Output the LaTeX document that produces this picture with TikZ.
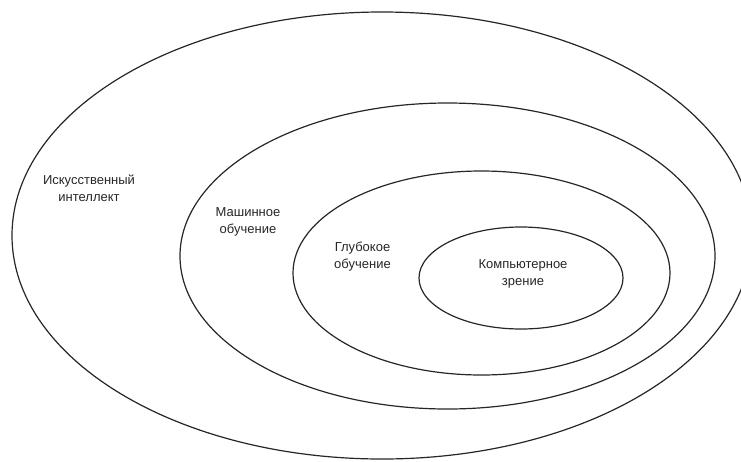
\documentclass[tikz,border=0pt]{standalone}
\usepackage{fontspec}
\setmainfont{Liberation Sans}
\usetikzlibrary{shapes.geometric}
\tikzset{
  ring/.style={draw=black!85, line width=1.2pt, ellipse, inner sep=0pt},
  lbl/.style={align=center, font=\fontsize{13}{17}\selectfont, text=black!85, inner sep=0pt}
}
\begin{document}
\begin{tikzpicture}[x=1pt,y=-1pt]
\useasboundingbox (0,0) rectangle (741,461);
\begin{scope}
\clip (0,0) rectangle (741,461);
\node[ring, minimum width=740pt, minimum height=447pt] (ai) at (382,235.5) {};
\end{scope}
\node[ring, minimum width=535pt, minimum height=306pt] (ml) at (447.5,256) {};
\node[ring, minimum width=377pt, minimum height=204pt] (dl) at (481.5,273) {};
\node[ring, minimum width=204pt, minimum height=102pt] (cv) at (521,278) {};
\node[lbl] (tai) at (89,188.5) {Искусственный\\интеллект};
\node[lbl] (tml) at (248,221.5) {Машинное\\обучение};
\node[lbl] (tdl) at (362.5,256.5) {Глубокое\\обучение};
\node[lbl] (tcv) at (523,273.5) {Компьютерное\\зрение};
\end{tikzpicture}
\end{document}
